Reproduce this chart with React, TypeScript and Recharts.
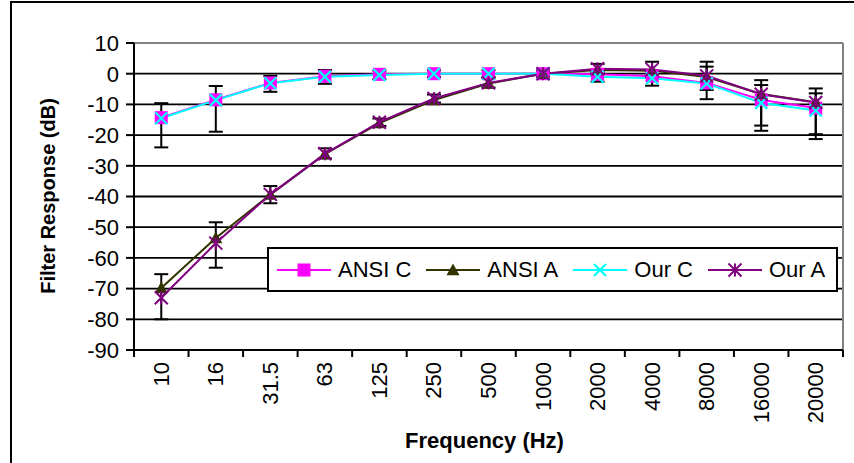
import React from "react";
import {
  LineChart,
  Line,
  XAxis,
  YAxis,
  CartesianGrid,
  ReferenceLine,
  ErrorBar,
  Legend,
  Label
} from "recharts";

// frequency bands (Hz)
const freqs = ["10", "16", "31.5", "63", "125", "250", "500", "1000", "2000", "4000", "8000", "16000", "20000"];

// filter responses (dB)
const ansiC = [-14.3, -8.5, -3.0, -0.8, -0.2, 0, 0, 0, -0.2, -0.8, -3.0, -8.5, -11.2];
const ansiA = [-69.8, -53.5, -39.4, -26.2, -16.1, -8.6, -3.2, 0, 1.2, 1.0, -1.1, -6.6, -9.3];
const ourC = [-14.5, -8.6, -3.1, -1.0, -0.4, 0, 0, 0, -1.0, -1.5, -3.2, -9.5, -12.0];
const ourA = [-73.0, -55.2, -39.3, -26.1, -15.8, -8.1, -3.0, 0, 1.6, 1.4, -0.7, -6.7, -9.4];

// error bars as [below, above]
const ourCErr = [[9.5, 4.9], [10.3, 4.6], [2.8, 2.4], [2.3, 2.2], [1.4, 1.4], [1.1, 1.1], [1.1, 1.1], [1.0, 1.0], [1.6, 1.6], [2.4, 2.4], [5.1, 5.5], [7.4, 7.4], [7.7, 7.2]];
const ourAErr = [[7.0, 7.7], [8.0, 6.8], [2.9, 2.7], [1.5, 1.8], [1.2, 1.2], [1.3, 1.3], [1.5, 1.5], [1.0, 1.0], [1.6, 1.6], [2.5, 2.5], [4.6, 4.6], [11.9, 3.0], [11.9, 3.0]];

const yTicks = [10, 0, -10, -20, -30, -40, -50, -60, -70, -80, -90];

const data = freqs.map((f, i) => ({
  x: i + 0.5,
  freq: f,
  ansiC: ansiC[i],
  ansiA: ansiA[i],
  ourC: ourC[i],
  ourA: ourA[i],
  cErr: ourCErr[i],
  aErr: ourAErr[i]
}));

const xTicks = data.map((d) => d.x);

const PLOT_L = 134;
const PLOT_R = 843;
const PLOT_B = 350;
const HALF_BAND = (PLOT_R - PLOT_L) / freqs.length / 2;

const FONT = "'Liberation Sans', Arial, sans-serif";

const MAGENTA = "#FF00FF";
const OLIVE = "#333300";
const CYAN = "#00FFFF";
const PURPLE = "#800080";

// markers
const Square = ({cx, cy, color = MAGENTA, s = 6.5}: any) =>
  cx == null ? null : <rect x={cx - s} y={cy - s} width={s * 2} height={s * 2} fill={color} />;

const Triangle = ({cx, cy, color = OLIVE, s = 6.5}: any) =>
  cx == null ? null : (
    <polygon points={`${cx},${cy - s} ${cx + s},${cy + s * 0.8} ${cx - s},${cy + s * 0.8}`} fill={color} />
  );

const Cross = ({cx, cy, color = CYAN, s = 6}: any) =>
  cx == null ? null : (
    <g stroke={color} strokeWidth={2.2}>
      <line x1={cx - s} y1={cy - s} x2={cx + s} y2={cy + s} />
      <line x1={cx - s} y1={cy + s} x2={cx + s} y2={cy - s} />
    </g>
  );

const Star = ({cx, cy, color = PURPLE, s = 6.5}: any) =>
  cx == null ? null : (
    <g stroke={color} strokeWidth={2}>
      <line x1={cx - s} y1={cy - s} x2={cx + s} y2={cy + s} />
      <line x1={cx - s} y1={cy + s} x2={cx + s} y2={cy - s} />
      <line x1={cx} y1={cy - s} x2={cx} y2={cy + s} />
    </g>
  );

// x tick: rotated label, tick marks between categories (Excel style)
const FreqTick = ({x, y, payload}: any) => {
  const i = Math.round(payload.value - 0.5);
  return (
    <g>
      <line x1={x - HALF_BAND} x2={x - HALF_BAND} y1={PLOT_B} y2={PLOT_B + 7} stroke="#000" strokeWidth={2} />
      {i === freqs.length - 1 && (
        <line x1={x + HALF_BAND} x2={x + HALF_BAND} y1={PLOT_B} y2={PLOT_B + 7} stroke="#000" strokeWidth={2} />
      )}
      <text
        x={x}
        y={y}
        transform={`rotate(-90, ${x}, ${y})`}
        textAnchor="end"
        dominantBaseline="central"
        fontSize={22}
        fontFamily={FONT}
        fill="#000"
      >
        {freqs[i]}
      </text>
    </g>
  );
};

const legendItems = [
  {name: "ANSI C", color: MAGENTA, Marker: Square},
  {name: "ANSI A", color: OLIVE, Marker: Triangle},
  {name: "Our C", color: CYAN, Marker: Cross},
  {name: "Our A", color: PURPLE, Marker: Star}
];

const renderLegend = () => (
  <div
    style={{
      width: 571,
      height: 45,
      boxSizing: "border-box",
      border: "2px solid #000",
      background: "#fff",
      display: "flex",
      alignItems: "center",
      paddingLeft: 8,
      fontFamily: FONT,
      fontSize: 22,
      whiteSpace: "nowrap"
    }}
  >
    {legendItems.map(({name, color, Marker}) => (
      <div key={name} style={{display: "flex", alignItems: "center", marginRight: 15, flexShrink: 0}}>
        <svg width={54} height={20} style={{marginRight: 7, flexShrink: 0}}>
          <line x1={0} x2={54} y1={10} y2={10} stroke={color} strokeWidth={2} />
          <Marker cx={27} cy={10} color={color} />
        </svg>
        <span>{name}</span>
      </div>
    ))}
  </div>
);

export default function App() {
  return (
    <div style={{position: "absolute", left: 0, top: 0, width: 854, height: 463, overflow: "hidden", background: "#fff"}}>
      <div
        style={{
          position: "absolute",
          left: 10,
          top: 1,
          width: 900,
          height: 500,
          borderLeft: "2px solid #000",
          borderTop: "2px solid #000"
        }}
      />
      <div style={{position: "absolute", left: 0, top: 0}}>
        <LineChart width={854} height={463} data={data} margin={{top: 43, right: 11, bottom: 0, left: 0}}>
          <CartesianGrid vertical={false} stroke="#000" strokeWidth={1.8} />
          <XAxis
            dataKey="x"
            type="number"
            domain={[0, 13]}
            ticks={xTicks}
            interval={0}
            height={113}
            tickLine={false}
            tickSize={7}
            tickMargin={5}
            axisLine={{stroke: "#000", strokeWidth: 2}}
            tick={<FreqTick />}
          >
            <Label
              content={() => (
                <text x={(PLOT_L + PLOT_R) / 2 - 4} y={448} textAnchor="middle" fontSize={22} fontWeight="bold" fontFamily={FONT}>
                  Frequency (Hz)
                </text>
              )}
            />
          </XAxis>
          <YAxis
            type="number"
            domain={[-90, 10]}
            ticks={yTicks}
            interval={0}
            width={134}
            tickSize={8}
            tickMargin={7}
            tickLine={{stroke: "#000", strokeWidth: 2}}
            axisLine={{stroke: "#000", strokeWidth: 2}}
            tick={{fill: "#000", fontSize: 22, fontFamily: FONT}}
          >
            <Label
              content={() => (
                <text
                  x={48}
                  y={196}
                  transform="rotate(-90, 48, 196)"
                  textAnchor="middle"
                  dominantBaseline="central"
                  fontSize={20}
                  fontWeight="bold"
                  fontFamily={FONT}
                >
                  Filter Response (dB)
                </text>
              )}
            />
          </YAxis>
          <ReferenceLine y={10} stroke="#808080" strokeWidth={2} />
          <ReferenceLine x={13} stroke="#808080" strokeWidth={2} />
          <Line
            dataKey="ansiC"
            stroke={MAGENTA}
            strokeWidth={2}
            dot={<Square />}
            activeDot={false}
            isAnimationActive={false}
          />
          <Line
            dataKey="ansiA"
            stroke={OLIVE}
            strokeWidth={2}
            dot={<Triangle />}
            activeDot={false}
            isAnimationActive={false}
          />
          <Line
            dataKey="ourC"
            stroke={CYAN}
            strokeWidth={2}
            dot={<Cross />}
            activeDot={false}
            isAnimationActive={false}
          >
            <ErrorBar dataKey="cErr" width={7} stroke="#000" strokeWidth={2} direction="y" isAnimationActive={false} />
          </Line>
          <Line
            dataKey="ourA"
            stroke={PURPLE}
            strokeWidth={2}
            dot={<Star />}
            activeDot={false}
            isAnimationActive={false}
          >
            <ErrorBar dataKey="aErr" width={7} stroke="#000" strokeWidth={2} direction="y" isAnimationActive={false} />
          </Line>
          <Legend
            layout="vertical"
            align="center"
            verticalAlign="middle"
            content={renderLegend}
            wrapperStyle={{position: "absolute", left: 267, top: 247, width: 571, height: 45}}
          />
        </LineChart>
      </div>
    </div>
  );
}
